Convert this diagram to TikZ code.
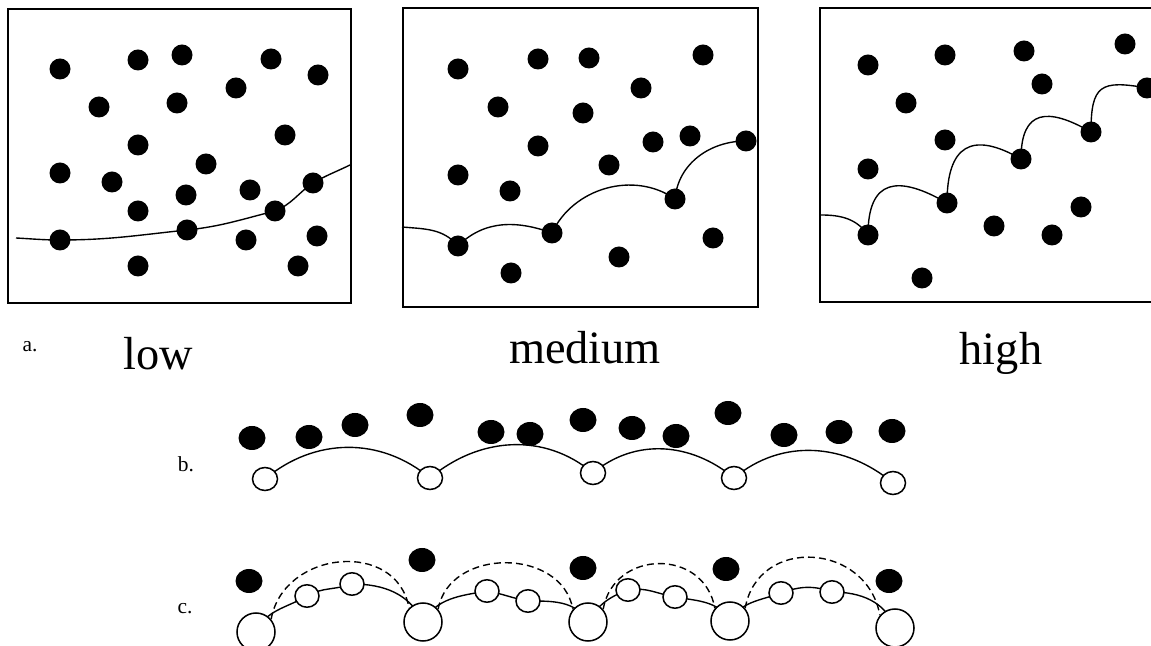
\documentclass[tikz,border=0pt]{standalone}
\usepackage{fontspec}
\setmainfont{Liberation Serif}
\usetikzlibrary{shapes.geometric,backgrounds}

\tikzset{
  bead/.style={circle,fill=black,inner sep=0pt,minimum size=0.21in},
  bigbead/.style={ellipse,fill=black,inner sep=0pt,minimum width=0.27in,minimum height=0.24in},
  ring/.style={ellipse,draw,fill=white,line width=1.1pt,inner sep=0pt,minimum width=0.25in,minimum height=0.23in},
  bigring/.style={circle,draw,fill=white,line width=1.1pt,inner sep=0pt,minimum size=0.38in},
  panelbox/.style={line width=1.3pt},
  wave/.style={line width=1pt},
  densitytext/.style={font=\fontsize{33.5}{40}\selectfont,anchor=base},
  rowtag/.style={font=\fontsize{15.5}{18}\selectfont,anchor=base}
}

\begin{document}
\begin{tikzpicture}[x=1in,y=1in]
  \useasboundingbox (0,0) rectangle (11.51,6.46);
  \clip (0,0) rectangle (11.51,6.46);

  \draw[panelbox] (0.08,6.37) rectangle (3.51,3.43);
  \draw[panelbox] (4.03,6.38) rectangle (7.58,3.39);
  \draw[panelbox] (8.20,6.38) rectangle (11.60,3.44);

  % low
  \foreach \x/\y [count=\i] in {0.60/5.77,1.38/5.86,1.82/5.91,2.71/5.87,3.18/5.71,0.99/5.39,
      1.77/5.43,2.36/5.58,2.85/5.11,1.38/5.01,0.60/4.73,1.12/4.64,2.06/4.82,1.86/4.51,
      2.50/4.56,1.38/4.35,2.46/4.06,3.17/4.10,1.38/3.80,2.98/3.80}
    \node[bead] (lodot\i) at (\x,\y) {};
  \coordinate (lo0) at (0.16,4.08);
  \node[bead] (lo1) at (0.60,4.06) {};
  \node[bead] (lo2) at (1.87,4.16) {};
  \node[bead] (lo3) at (2.75,4.35) {};
  \node[bead] (lo4) at (3.13,4.63) {};
  \coordinate (lo5) at (3.50,4.81);

  % medium
  \foreach \x/\y [count=\i] in {4.58/5.77,5.38/5.87,5.89/5.88,7.03/5.91,6.41/5.58,4.98/5.39,
      5.83/5.33,5.38/5.00,6.53/5.04,6.90/5.10,6.09/4.81,4.58/4.71,5.10/4.55,7.13/4.08,
      6.19/3.89,5.11/3.73}
    \node[bead] (medot\i) at (\x,\y) {};
  \coordinate (me0) at (4.02,4.19);
  \node[bead] (me1) at (4.58,4.00) {};
  \node[bead] (me2) at (5.52,4.13) {};
  \node[bead] (me3) at (6.75,4.47) {};
  \node[bead] (me4) at (7.46,5.05) {};

  % high
  \foreach \x/\y [count=\i] in {8.68/5.81,9.45/5.91,10.24/5.95,11.25/6.02,10.42/5.62,9.06/5.43,
      9.45/5.06,8.68/4.77,10.81/4.39,9.94/4.20,10.52/4.11,9.22/3.68}
    \node[bead] (hidot\i) at (\x,\y) {};
  \coordinate (hi0) at (8.21,4.31);
  \node[bead] (hi1) at (8.68,4.11) {};
  \node[bead] (hi2) at (9.47,4.43) {};
  \node[bead] (hi3) at (10.21,4.87) {};
  \node[bead] (hi4) at (10.91,5.14) {};
  \node[bead] (hi5) at (11.47,5.58) {};

  \node[rowtag] (taga) at (0.30,2.94) {a.};
  \node[densitytext] (low) at (1.58,2.76) {low};
  \node[densitytext] (medium) at (5.85,2.82) {medium};
  \node[densitytext] (high) at (10.01,2.81) {high};

  % row b
  \node[rowtag] (tagb) at (1.86,1.74) {b.};
  \foreach \x/\y [count=\i] in {2.52/2.08,3.09/2.09,3.55/2.21,4.20/2.31,4.91/2.14,5.30/2.12,
      5.83/2.26,6.32/2.18,6.76/2.10,7.28/2.33,7.84/2.11,8.39/2.14,8.92/2.15}
    \node[bigbead] (bdot\i) at (\x,\y) {};
  \node[ring] (rb1) at (2.65,1.67) {};
  \node[ring] (rb2) at (4.30,1.68) {};
  \node[ring] (rb3) at (5.93,1.73) {};
  \node[ring] (rb4) at (7.34,1.68) {};
  \node[ring] (rb5) at (8.93,1.63) {};

  % row c
  \node[rowtag] (tagc) at (1.85,0.33) {c.};
  \foreach \x/\y [count=\i] in {2.49/0.65,4.22/0.86,5.83/0.78,7.26/0.77,8.89/0.65}
    \node[bigbead] (cdot\i) at (\x,\y) {};
  \node[bigring] (cb1) at (2.56,0.14) {};
  \node[bigring] (cb2) at (4.23,0.24) {};
  \node[bigring] (cb3) at (5.88,0.24) {};
  \node[bigring] (cb4) at (7.30,0.25) {};
  \node[bigring] (cb5) at (8.95,0.18) {};
  \node[ring,minimum width=0.24in,minimum height=0.225in] (cs1) at (3.07,0.50) {};
  \node[ring,minimum width=0.24in,minimum height=0.225in] (cs2) at (3.52,0.62) {};
  \node[ring,minimum width=0.24in,minimum height=0.225in] (cs3) at (4.87,0.55) {};
  \node[ring,minimum width=0.24in,minimum height=0.225in] (cs4) at (5.28,0.45) {};
  \node[ring,minimum width=0.24in,minimum height=0.225in] (cs5) at (6.28,0.56) {};
  \node[ring,minimum width=0.24in,minimum height=0.225in] (cs6) at (6.75,0.49) {};
  \node[ring,minimum width=0.24in,minimum height=0.225in] (cs7) at (7.81,0.53) {};
  \node[ring,minimum width=0.24in,minimum height=0.225in] (cs8) at (8.32,0.54) {};

  \begin{scope}[on background layer]
    \fill[white] (0,0) rectangle (11.51,6.46);
    \draw[wave] (lo0) to[out=-3,in=180] (lo1.center) to[out=0,in=186] (lo2.center)
      to[out=6,in=194] (lo3.center) to[out=22,in=214] (lo4.center) to[out=30,in=206] (lo5);
    \draw[wave] (me0) to[out=-5,in=130] (me1.center) to[out=45,in=160] (me2.center)
      to[out=65,in=145] (me3.center) to[out=85,in=180] (me4.center);
    \draw[wave,looseness=1.7] (hi0) to[out=0,in=125,looseness=1] (hi1.center)
      to[out=90,in=150] (hi2.center) to[out=90,in=150] (hi3.center)
      to[out=90,in=150] (hi4.center) to[out=90,in=170] (hi5.center);
    \draw[wave] (rb1.center) to[out=40,in=140] (rb2.center) to[out=40,in=140] (rb3.center)
      to[out=40,in=140] (rb4.center) to[out=40,in=140] (rb5.center);
    \draw[wave] (cb1.center) to[out=65,in=210] (cs1.center) to[out=30,in=200] (cs2.center)
      to[out=0,in=115] (cb2.center) to[out=60,in=190] (cs3.center)
      to[out=-10,in=170] (cs4.center) to[out=0,in=120] (cb3.center)
      to[out=60,in=200] (cs5.center) to[out=10,in=170] (cs6.center)
      to[out=-10,in=120] (cb4.center) to[out=60,in=200] (cs7.center)
      to[out=20,in=160] (cs8.center) to[out=0,in=110] (cb5.center);
    \draw[wave,dash pattern=on 5pt off 3pt] (cb1.40) to[out=80,in=100,looseness=1.3] (cb2.135);
    \draw[wave,dash pattern=on 5pt off 3pt] (cb2.40) to[out=80,in=100,looseness=1.2] (cb3.140);
    \draw[wave,dash pattern=on 5pt off 3pt] (cb3.40) to[out=80,in=100,looseness=1.4] (cb4.140);
    \draw[wave,dash pattern=on 5pt off 3pt] (cb4.40) to[out=80,in=100,looseness=1.4] (cb5.140);
  \end{scope}
\end{tikzpicture}
\end{document}
